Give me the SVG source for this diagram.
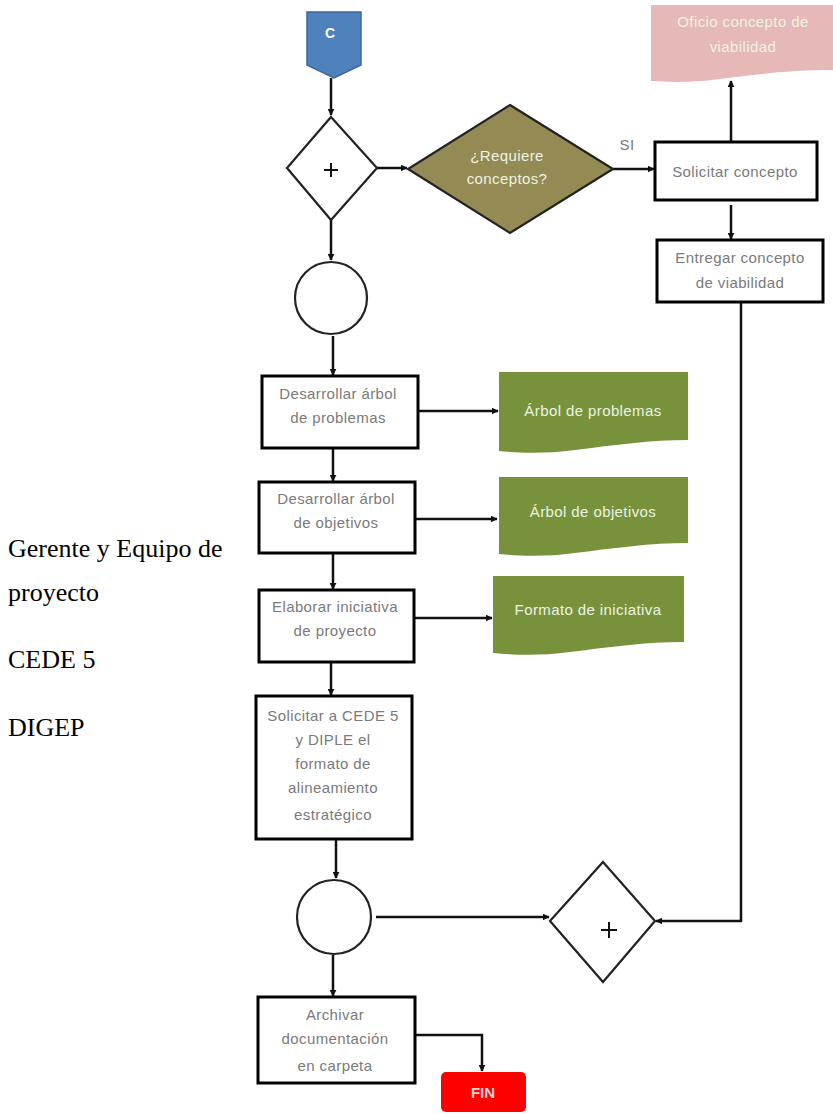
<svg xmlns="http://www.w3.org/2000/svg" width="833" height="1114" viewBox="0 0 833 1114">
  <defs>
    <marker id="arrow" viewBox="0 0 10 10" refX="9" refY="5" markerWidth="7" markerHeight="7" markerUnits="userSpaceOnUse" orient="auto">
      <path d="M0,0 L10,5 L0,10 Z" fill="#111"/>
    </marker>
  </defs>
  <style>
    .box { fill: #ffffff; stroke: #000000; stroke-width: 3; }
    .gate { fill: #ffffff; stroke: #222222; stroke-width: 2.2; }
    .plus { stroke: #111111; stroke-width: 2; }
    .edge { fill: none; stroke: #111111; stroke-width: 2.5; }
    .lbl { font-family: "Liberation Sans", Arial, sans-serif; font-size: 15px; letter-spacing: 0.4px; fill: #7a7a7a; text-anchor: middle; }
    .doc-green { fill: #77923b; }
    .doc-pink { fill: #e6b8b8; }
    .doc-txt { font-family: "Liberation Sans", Arial, sans-serif; font-size: 15px; letter-spacing: 0.4px; fill: #eef3e2; text-anchor: middle; }
    .lane { font-family: "Liberation Serif", "Times New Roman", serif; font-size: 26px; fill: #000000; }
  </style>

  <!-- Lane labels -->
  <g id="lanes">
    <text class="lane" x="8" y="557">Gerente y Equipo de</text>
    <text class="lane" x="8" y="601">proyecto</text>
    <text class="lane" x="8" y="668">CEDE 5</text>
    <text class="lane" x="8" y="736">DIGEP</text>
  </g>

  <!-- Connectors -->
  <g id="connectors">
    <line class="edge" x1="331" y1="78" x2="331" y2="115" marker-end="url(#arrow)"/>
    <line class="edge" x1="377" y1="168" x2="407" y2="168" marker-end="url(#arrow)"/>
    <line class="edge" x1="613" y1="169" x2="654" y2="169" marker-end="url(#arrow)"/>
    <line class="edge" x1="731" y1="142" x2="731" y2="81" marker-end="url(#arrow)"/>
    <line class="edge" x1="731" y1="205" x2="731" y2="239" marker-end="url(#arrow)"/>
    <polyline class="edge" points="741,302 741,921 656,921" marker-end="url(#arrow)"/>
    <line class="edge" x1="331" y1="220" x2="331" y2="260" marker-end="url(#arrow)"/>
    <line class="edge" x1="333" y1="336" x2="333" y2="375" marker-end="url(#arrow)"/>
    <line class="edge" x1="418" y1="411" x2="498" y2="411" marker-end="url(#arrow)"/>
    <line class="edge" x1="333" y1="448" x2="333" y2="481" marker-end="url(#arrow)"/>
    <line class="edge" x1="415" y1="519" x2="497" y2="519" marker-end="url(#arrow)"/>
    <line class="edge" x1="333" y1="553" x2="333" y2="589" marker-end="url(#arrow)"/>
    <line class="edge" x1="414" y1="618" x2="492" y2="618" marker-end="url(#arrow)"/>
    <line class="edge" x1="331" y1="662" x2="331" y2="695" marker-end="url(#arrow)"/>
    <line class="edge" x1="336" y1="839" x2="336" y2="878" marker-end="url(#arrow)"/>
    <line class="edge" x1="376" y1="917" x2="549" y2="917" marker-end="url(#arrow)"/>
    <line class="edge" x1="333" y1="955" x2="333" y2="996" marker-end="url(#arrow)"/>
    <polyline class="edge" points="415,1035 482,1035 482,1071" marker-end="url(#arrow)"/>
  </g>

  <!-- Off-page connector C -->
  <g id="connector-c">
    <polygon points="307,12 361,12 361,65 334,78 307,65" fill="#4f81bd" stroke="#3d6899" stroke-width="1.5"/>
    <text x="330" y="38" font-family="Liberation Sans, Arial, sans-serif" font-size="14" font-weight="bold" fill="#ffffff" text-anchor="middle">C</text>
  </g>

  <!-- Parallel gateway (top) -->
  <g id="gateway-1">
    <polygon class="gate" points="331,117 377,168 331,220 287,168"/>
    <line class="plus" x1="324" y1="170" x2="338" y2="170"/>
    <line class="plus" x1="331" y1="163" x2="331" y2="177"/>
  </g>

  <!-- Decision -->
  <g id="decision">
    <polygon points="510,105 613,169 510,233 408,169" fill="#948a54" stroke="#222222" stroke-width="2.2"/>
    <text class="doc-txt" x="507" y="161" font-size="13" fill="#f0ead2">¿Requiere</text>
    <text class="doc-txt" x="507" y="184" font-size="13" fill="#f0ead2">conceptos?</text>
    <text class="lbl" x="627" y="150" font-size="13">SI</text>
  </g>

  <!-- Oficio document -->
  <g id="doc-oficio">
    <path class="doc-pink" d="M651,5 H833 V70 C790,70 760,74 720,79 C690,83 670,82 651,81 Z"/>
    <text class="doc-txt" x="743" y="27" font-size="14" fill="#f7e6e6">Oficio concepto de</text>
    <text class="doc-txt" x="743" y="52" font-size="14" fill="#f7e6e6">viabilidad</text>
  </g>

  <!-- Solicitar concepto -->
  <g id="task-solicitar-concepto">
    <rect class="box" x="655" y="142" width="162" height="58"/>
    <text class="lbl" x="735" y="177">Solicitar concepto</text>
  </g>

  <!-- Entregar concepto -->
  <g id="task-entregar-concepto">
    <rect class="box" x="657" y="240" width="166" height="62"/>
    <text class="lbl" x="740" y="263">Entregar concepto</text>
    <text class="lbl" x="740" y="288">de viabilidad</text>
  </g>

  <!-- Intermediate event (top) -->
  <g id="event-1">
    <circle cx="331" cy="298" r="36" fill="#ffffff" stroke="#222222" stroke-width="2.2"/>
  </g>

  <!-- Desarrollar arbol de problemas -->
  <g id="task-problemas">
    <rect class="box" x="262" y="376" width="156" height="72"/>
    <text class="lbl" x="338" y="399">Desarrollar árbol</text>
    <text class="lbl" x="338" y="423">de problemas</text>
  </g>
  <g id="doc-problemas">
    <path class="doc-green" d="M499,372 H688 V440 C650,440 615,445 575,450 C545,454 520,453 499,451 Z"/>
    <text class="doc-txt" x="593" y="416">Árbol de problemas</text>
  </g>

  <!-- Desarrollar arbol de objetivos -->
  <g id="task-objetivos">
    <rect class="box" x="259" y="482" width="156" height="71"/>
    <text class="lbl" x="336" y="504">Desarrollar árbol</text>
    <text class="lbl" x="336" y="528">de objetivos</text>
  </g>
  <g id="doc-objetivos">
    <path class="doc-green" d="M499,477 H688 V543 C650,543 615,548 575,553 C545,557 520,556 499,554 Z"/>
    <text class="doc-txt" x="593" y="517">Árbol de objetivos</text>
  </g>

  <!-- Elaborar iniciativa -->
  <g id="task-iniciativa">
    <rect class="box" x="259" y="590" width="155" height="72"/>
    <text class="lbl" x="335" y="612">Elaborar iniciativa</text>
    <text class="lbl" x="335" y="636">de proyecto</text>
  </g>
  <g id="doc-iniciativa">
    <path class="doc-green" d="M493,576 H684 V642 C645,642 610,647 570,652 C540,656 515,655 493,653 Z"/>
    <text class="doc-txt" x="588" y="615">Formato de iniciativa</text>
  </g>

  <!-- Solicitar a CEDE 5 y DIPLE -->
  <g id="task-alineamiento">
    <rect class="box" x="256" y="696" width="156" height="143"/>
    <text class="lbl" x="333" y="721">Solicitar a CEDE 5</text>
    <text class="lbl" x="333" y="745">y DIPLE el</text>
    <text class="lbl" x="333" y="769">formato de</text>
    <text class="lbl" x="333" y="793">alineamiento</text>
    <text class="lbl" x="333" y="820">estratégico</text>
  </g>

  <!-- Intermediate event (bottom) -->
  <g id="event-2">
    <circle cx="334" cy="917" r="37" fill="#ffffff" stroke="#222222" stroke-width="2.2"/>
  </g>

  <!-- Parallel gateway (bottom) -->
  <g id="gateway-2">
    <polygon class="gate" points="603,862 655,921 603,982 550,921"/>
    <line class="plus" x1="601" y1="930" x2="617" y2="930"/>
    <line class="plus" x1="609" y1="922" x2="609" y2="938"/>
  </g>

  <!-- Archivar documentacion -->
  <g id="task-archivar">
    <rect class="box" x="258" y="997" width="157" height="86"/>
    <text class="lbl" x="335" y="1020">Archivar</text>
    <text class="lbl" x="335" y="1044">documentación</text>
    <text class="lbl" x="335" y="1071">en carpeta</text>
  </g>

  <!-- End -->
  <g id="end-fin">
    <rect x="441" y="1072" width="85" height="40" rx="5" fill="#ff0000"/>
    <text x="483" y="1098" font-family="Liberation Sans, Arial, sans-serif" font-size="15" font-weight="bold" fill="#ffd0d0" text-anchor="middle">FIN</text>
  </g>
</svg>
